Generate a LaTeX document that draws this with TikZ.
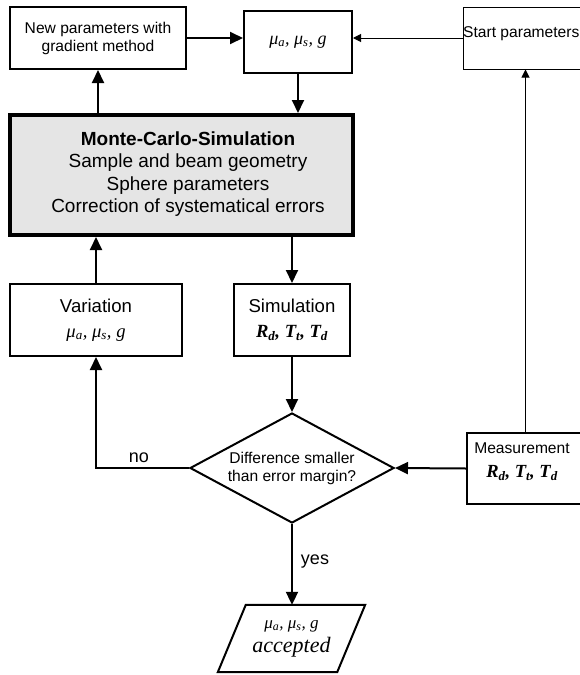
\documentclass[tikz,border=0pt]{standalone}
\usepackage{fontspec}
\setmainfont{Liberation Sans}
\newfontfamily\tms{Liberation Serif}
\usetikzlibrary{arrows.meta,shapes.geometric}
\newcommand\mypar{{\tms\itshape μ\textsubscript{a}, μ\textsubscript{s}, g}}
\newcommand\myrtt{{\tms\bfseries\itshape R\textsubscript{d}, T\textsubscript{t}, T\textsubscript{d}}}
\begin{document}
\begin{tikzpicture}[x=1pt,y=-1pt,
  box/.style={draw, line width=2pt, rectangle, inner sep=0pt, align=center},
  thinbox/.style={draw, line width=1pt, rectangle, inner sep=0pt},
  arr/.style={line width=2pt, -{Triangle[length=13pt,width=12pt]}},
  thinarr/.style={line width=1pt, -{Triangle[length=8pt,width=8pt]}},
  lbl/.style={inner sep=0pt, align=center},
  fA/.style={font=\fontsize{15.6}{18}\selectfont},
  fB/.style={font=\fontsize{19}{22.3}\selectfont},
  fC/.style={font=\fontsize{18.6}{25}\selectfont},
  fM/.style={font=\fontsize{18}{22}\selectfont},
  fY/.style={font=\fontsize{18}{22}\selectfont}]
\useasboundingbox (0,0) rectangle (580,675);
\fill[white] (0,0) rectangle (580,675);

\node[box, minimum width=176pt, minimum height=62pt, fA] (newp) at (98,38) {New parameters with\\gradient method};
\node[box, minimum width=108pt, minimum height=62pt, fM] (mu) at (298,42) {\mypar};
\node[thinbox, minimum width=137pt, minimum height=62pt] (start) at (531.5,38) {};
\node[lbl, anchor=west, fA] (starttxt) at (463,34) {Start parameters};

\node[draw, line width=4pt, fill=black!10, minimum width=343pt, minimum height=120pt, inner sep=0pt] (mc) at (181.5,175) {};
\node[lbl, fB] (mctxt) at (188,174) {\textbf{Monte-Carlo-Simulation}\\Sample and beam geometry\\Sphere parameters\\Correction of systematical errors};

\node[box, minimum width=172pt, minimum height=72pt, fC] (var) at (96,320) {Variation\\\mypar};
\node[box, minimum width=116pt, minimum height=72pt, fC] (sim) at (292,320) {Simulation\\\myrtt};

\node[draw, diamond, line width=2pt, minimum width=204pt, minimum height=110pt, inner sep=0pt, shape aspect=1.85, align=center, fA] (dec) at (292,468) {Difference smaller\\than error margin?};

\node[box, minimum width=133pt, minimum height=71pt] (meas) at (533.5,468.5) {};
\node[lbl, font=\fontsize{18.5}{24}\selectfont] (meastxt) at (522,462) {{\fontsize{15.6}{24}\selectfont Measurement}\\\myrtt};

\node[lbl, minimum width=119pt, minimum height=67pt, font=\fontsize{17}{24}\selectfont] (acc) at (291.5,638.5) {\mypar\\{\tms\itshape\fontsize{22}{24}\selectfont accepted}};
\draw[line width=2pt, line join=miter] ([xshift=14pt]acc.north west) -- ([xshift=14pt]acc.north east) -- ([xshift=-14pt]acc.south east) -- ([xshift=-14pt]acc.south west) -- cycle;

\node[lbl, fY] (no) at (139,458) {no};
\node[lbl, fY] (yes) at (315,562) {yes};

\draw[arr] (newp.east) -- (newp.east -| mu.west);
\draw[thinarr] (start.west) -- (start.west -| mu.east);
\draw[arr] (mu.south) -- (mu.south |- mc.north);
\draw[arr] (newp.south |- mc.north) -- (newp.south);
\draw[arr] (var.north) -- (var.north |- mc.south);
\draw[arr] (mc.south -| sim.north) -- (sim.north);
\draw[arr] (sim.south) -- (dec.north);
\draw[arr, line join=miter] (dec.west) -| (var.south);
\draw[arr] (meas.west) -- (dec.east);
\draw[thinarr] ([xshift=-8pt]meas.north) -- ([xshift=-8pt]meas.north |- start.south);
\draw[arr] (dec.south) -- (dec.south |- acc.north);
\end{tikzpicture}
\end{document}
